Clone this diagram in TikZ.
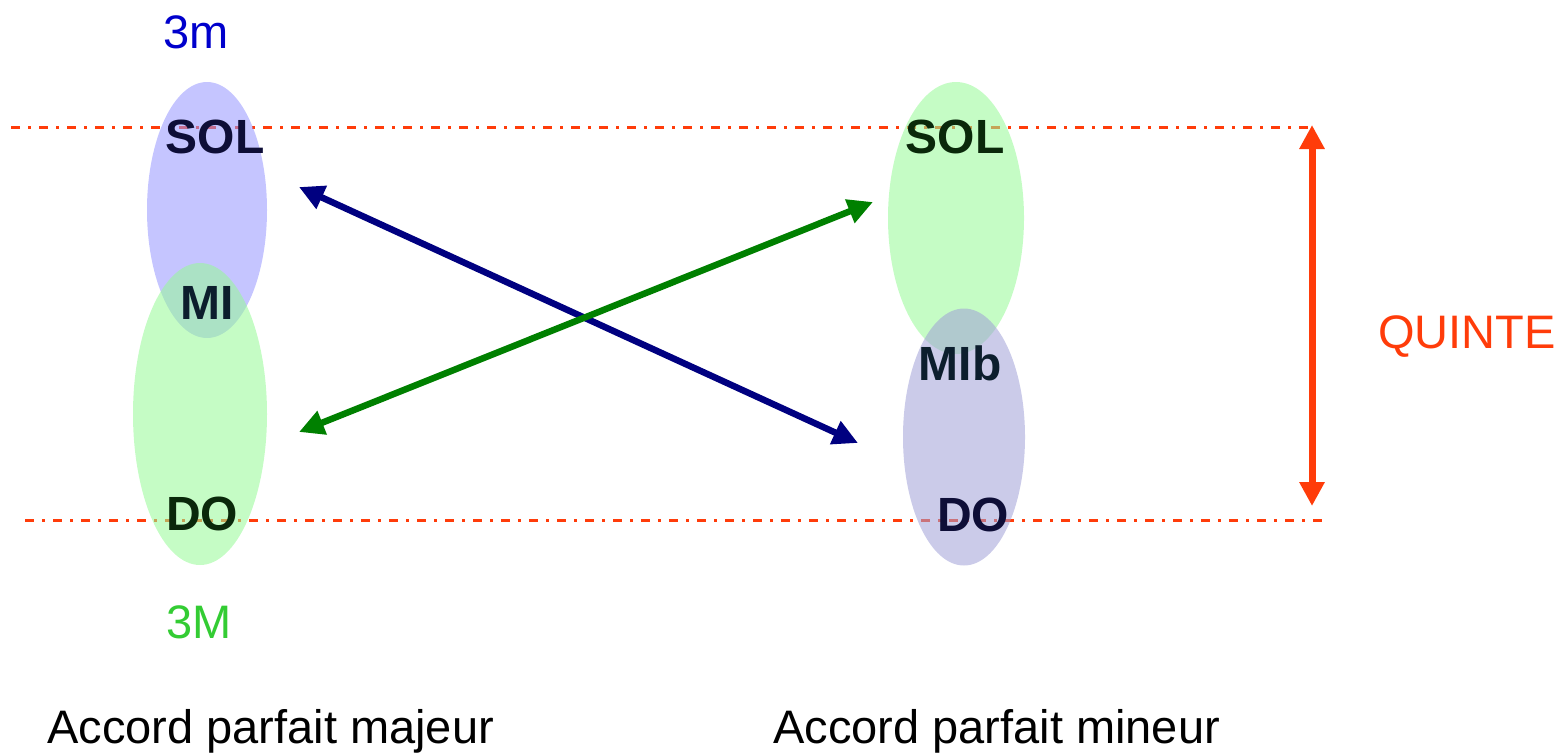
\documentclass[tikz,border=0pt]{standalone}
\usepackage{fontspec}
\setmainfont{Liberation Sans}
\usetikzlibrary{arrows.meta,shapes.geometric}
\definecolor{qred}{RGB}{255,60,10}
\definecolor{bluefill}{RGB}{150,150,255}
\definecolor{greenfill}{RGB}{150,250,150}
\definecolor{greyfill}{RGB}{160,160,215}
\definecolor{navy}{RGB}{0,0,128}
\definecolor{darkgreen}{RGB}{0,128,0}
\definecolor{lblue}{RGB}{0,0,204}
\definecolor{lgreen}{RGB}{51,204,51}
\definecolor{txtblue}{RGB}{14,14,55}
\definecolor{txtgreen}{RGB}{10,40,10}
\definecolor{txtmix}{RGB}{12,30,45}
\tikzset{
  guide/.style={draw=qred, line width=3pt, dash pattern=on 9pt off 8pt on 3pt off 8pt},
  blob/.style={ellipse, draw=none, inner sep=0pt, fill opacity=0.55},
  note/.style={font=\fontsize{48}{56}\selectfont\bfseries, inner sep=0pt, anchor=base},
  lab/.style={font=\fontsize{47}{56}\selectfont, inner sep=0pt, anchor=base},
  dbl/.style={line width=6.5pt, {Triangle[length=25pt,width=24pt]}-{Triangle[length=25pt,width=24pt]}},
}
\begin{document}
\begin{tikzpicture}[x=1pt,y=-1pt]
\path[use as bounding box] (0,0) rectangle (1562,753);
% guide lines
\coordinate (tl) at (11,127); \coordinate (tr) at (1312,127);
\coordinate (bl) at (25,520); \coordinate (br) at (1328,520);
\draw[guide] (tl) -- (tr);
\draw[guide] (bl) -- (br);
% left chord ellipses
\node[blob, fill=bluefill, minimum width=120pt, minimum height=256pt] (e3m) at (207,210) {};
\node[blob, fill=greenfill, minimum width=134pt, minimum height=302pt] (e3M) at (200,414) {};
% right chord ellipses
\node[blob, fill=greenfill, minimum width=136pt, minimum height=272pt] (rg) at (956,218) {};
\node[blob, fill=greyfill, minimum width=122pt, minimum height=257pt] (rb) at (964,437) {};
% notes
\node[note, text=txtblue] (sol1) at (215,153) {SOL};
\node[note, text=txtmix] (mi1) at (207,319) {MI};
\node[note, text=txtgreen] (do1) at (202,530) {DO};
\node[note, text=txtgreen] (sol2) at (955,153) {SOL};
\node[note, text=txtmix] (mib) at (960,380) {MIb};
\node[note, text=txtblue] (do2) at (973,531) {DO};
% labels
\node[lab, text=lblue] (l3m) at (196,48) {3m};
\node[lab, text=lgreen] (l3M) at (199,638) {3M};
\node[lab, anchor=base west] (maj) at (47,743) {Accord parfait majeur};
\node[lab, anchor=base west] (min) at (773,743) {Accord parfait mineur};
\node[lab, text=qred, anchor=base west] (quinte) at (1378,348) {QUINTE};
% arrows
\coordinate (a1) at (299,187); \coordinate (a2) at (858,443);
\coordinate (g1) at (299,432); \coordinate (g2) at (873,202);
\draw[dbl, navy] (a1) -- (a2);
\draw[dbl, darkgreen] (g1) -- (g2);
\coordinate (q1) at (1312,125); \coordinate (q2) at (1312,506);
\draw[line width=7pt, qred, {Triangle[length=24pt,width=24pt]}-{Triangle[length=24pt,width=24pt]}] (q1) -- (q2);
\end{tikzpicture}
\end{document}
